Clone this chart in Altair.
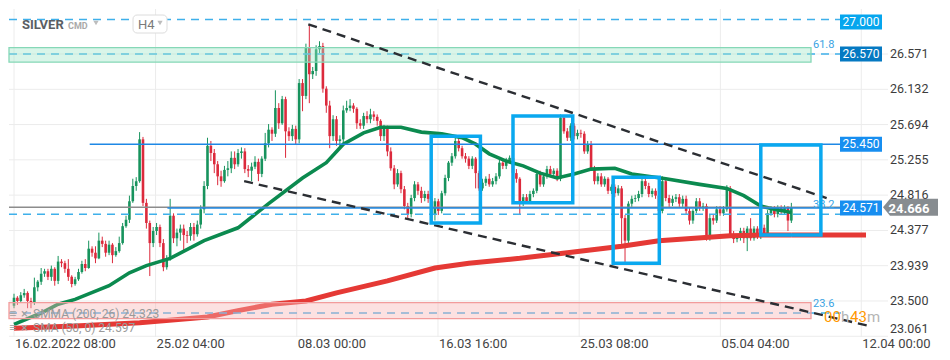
import altair as alt
import pandas as pd

# ---------------- data (prices in USD) ----------------
FIRST_OPEN = 23.44
CLOSE = [
    23.54, 23.50, 23.57, 23.60, 23.50, 23.48, 23.67, 23.74, 23.84, 23.87,
    23.80, 23.90, 23.75, 23.99, 23.97, 23.90, 23.80, 23.71, 23.77, 23.86,
    23.96, 23.91, 24.15, 24.10, 24.03, 24.25, 24.21, 24.10, 24.20, 24.07,
    24.12, 24.22, 24.43, 24.51, 24.74, 24.93, 24.99, 25.51, 24.72, 24.47,
    24.22, 24.37, 24.42, 24.22, 23.92, 24.02, 24.56, 24.28, 24.35, 24.40,
    24.32, 24.31, 24.42, 24.33, 24.45, 24.64, 24.93, 25.43, 25.34, 25.20,
    25.05, 24.99, 25.13, 25.15, 25.28, 25.20, 25.34, 25.36, 25.14, 25.12,
    25.17, 25.23, 25.08, 25.27, 25.46, 25.63, 25.58, 25.90, 25.71, 26.01,
    25.61, 25.55, 25.64, 25.51, 26.21, 26.05, 26.65, 26.32, 26.36, 26.63,
    26.67, 26.14, 25.93, 25.55, 25.76, 25.49, 25.51, 25.87, 25.90, 25.93,
    25.89, 25.71, 25.68, 25.80, 25.76, 25.82, 25.79, 25.74, 25.55, 25.64,
    25.36, 25.15, 24.95, 25.09, 24.89, 24.68, 24.58, 24.78, 24.95, 24.87,
    24.78, 24.83, 24.77, 24.58, 24.74, 24.62, 24.84, 25.03, 25.22, 25.30,
    25.49, 25.40, 25.30, 25.27, 25.18, 25.27, 25.09, 24.90, 24.97, 25.02,
    24.95, 24.99, 25.05, 25.22, 25.18, 25.24, 25.28, 25.09, 25.02, 24.72,
    24.79, 24.74, 24.83, 24.87, 25.08, 24.95, 25.05, 25.14, 25.08, 25.12,
    25.02, 25.78, 25.61, 25.53, 25.68, 25.55, 25.59, 25.58, 25.36, 25.45,
    25.15, 24.99, 25.05, 24.95, 25.02, 24.87, 24.92, 24.84, 24.90, 24.53,
    24.25, 24.71, 24.77, 24.78, 24.83, 24.99, 24.93, 24.83, 24.87, 24.81,
    24.62, 24.99, 24.78, 24.72, 24.77, 24.79, 24.71, 24.77, 24.62, 24.50,
    24.62, 24.74, 24.66, 24.68, 24.28, 24.53, 24.50, 24.64, 24.59, 24.64,
    24.90, 24.33, 24.27, 24.30, 24.37, 24.28, 24.40, 24.28, 24.40, 24.31,
    24.41, 24.33, 24.59, 24.64, 24.58, 24.66, 24.62, 24.66, 24.50, 24.66,
]
HIGH = [
    23.59, 23.56, 23.61, 23.65, 23.62, 23.54, 23.79, 23.76, 23.91, 23.90,
    23.90, 23.94, 23.92, 24.06, 24.02, 24.00, 24.02, 23.82, 23.80, 23.90,
    24.00, 24.02, 24.25, 24.18, 24.18, 24.35, 24.30, 24.25, 24.25, 24.22,
    24.17, 24.30, 24.47, 24.56, 24.81, 25.02, 25.04, 25.60, 25.54, 24.77,
    24.50, 24.42, 24.47, 24.45, 24.27, 24.07, 24.77, 24.59, 24.40, 24.45,
    24.45, 24.37, 24.47, 24.47, 24.50, 24.69, 24.99, 25.53, 25.49, 25.39,
    25.24, 25.12, 25.18, 25.24, 25.36, 25.36, 25.39, 25.41, 25.40, 25.19,
    25.22, 25.30, 25.27, 25.30, 25.59, 25.70, 25.66, 26.12, 25.96, 26.05,
    26.04, 25.66, 25.69, 25.68, 26.26, 26.26, 26.70, 26.94, 26.41, 26.68,
    26.73, 26.71, 26.17, 25.99, 25.81, 25.80, 25.56, 25.93, 25.99, 26.01,
    25.96, 25.91, 25.76, 25.84, 25.86, 25.89, 25.86, 25.82, 25.76, 25.69,
    25.68, 25.41, 25.19, 25.14, 25.12, 24.93, 24.72, 24.82, 24.99, 24.98,
    24.92, 24.87, 24.87, 24.79, 24.78, 24.77, 24.87, 25.07, 25.24, 25.34,
    25.53, 25.53, 25.43, 25.34, 25.30, 25.30, 25.29, 25.12, 25.02, 25.05,
    25.08, 25.03, 25.09, 25.27, 25.24, 25.28, 25.31, 25.30, 25.14, 25.04,
    24.83, 24.83, 24.87, 24.90, 25.12, 25.12, 25.09, 25.18, 25.18, 25.15,
    25.15, 25.82, 25.80, 25.65, 25.71, 25.71, 25.63, 25.63, 25.61, 25.49,
    25.49, 25.18, 25.09, 25.09, 25.05, 25.04, 24.95, 24.95, 24.94, 24.93,
    24.57, 24.74, 24.81, 24.82, 24.87, 25.04, 25.03, 24.97, 24.90, 24.90,
    24.84, 25.05, 25.03, 24.82, 24.81, 24.83, 24.83, 24.81, 24.81, 24.66,
    24.64, 24.78, 24.78, 24.72, 24.71, 24.57, 24.57, 24.68, 24.68, 24.68,
    24.94, 24.93, 24.37, 24.33, 24.41, 24.41, 24.43, 24.53, 24.43, 24.43,
    24.45, 24.45, 24.63, 24.68, 24.68, 24.69, 24.69, 24.69, 24.68, 24.72,
]
LOW = [
    23.41, 23.45, 23.48, 23.54, 23.41, 23.41, 23.45, 23.62, 23.70, 23.80,
    23.76, 23.75, 23.69, 23.71, 23.92, 23.85, 23.75, 23.67, 23.69, 23.75,
    23.84, 23.87, 23.90, 24.05, 23.97, 24.02, 24.17, 24.05, 24.07, 23.97,
    24.05, 24.10, 24.20, 24.41, 24.47, 24.72, 24.87, 24.97, 24.68, 24.40,
    23.81, 24.17, 24.32, 24.17, 23.87, 23.89, 24.00, 24.22, 24.18, 24.25,
    24.12, 24.22, 24.25, 24.25, 24.30, 24.40, 24.59, 24.89, 25.24, 25.09,
    24.94, 24.92, 24.97, 25.05, 25.09, 25.14, 25.17, 25.27, 25.09, 25.04,
    24.99, 25.14, 24.99, 25.04, 25.24, 25.41, 25.49, 25.54, 25.64, 25.69,
    25.28, 25.49, 25.49, 25.45, 25.46, 25.86, 26.01, 25.96, 26.26, 26.30,
    26.58, 26.09, 25.84, 25.40, 25.49, 25.43, 25.40, 25.46, 25.84, 25.86,
    25.84, 25.64, 25.64, 25.64, 25.71, 25.71, 25.74, 25.68, 25.49, 25.49,
    25.30, 25.12, 24.89, 24.92, 24.84, 24.64, 24.52, 24.54, 24.74, 24.82,
    24.72, 24.74, 24.72, 24.52, 24.50, 24.57, 24.59, 24.81, 24.99, 25.18,
    25.27, 25.36, 25.27, 25.22, 25.14, 25.14, 24.90, 24.87, 24.87, 24.93,
    24.92, 24.92, 24.95, 25.02, 25.14, 25.14, 25.22, 25.05, 24.97, 24.58,
    24.68, 24.71, 24.71, 24.79, 24.84, 24.92, 24.92, 25.02, 25.04, 25.04,
    24.99, 24.99, 25.58, 25.49, 25.49, 25.51, 25.51, 25.53, 25.33, 25.33,
    25.12, 24.95, 24.95, 24.92, 24.92, 24.83, 24.83, 24.79, 24.81, 24.21,
    23.97, 24.21, 24.67, 24.73, 24.74, 24.79, 24.89, 24.79, 24.79, 24.77,
    24.58, 24.59, 24.74, 24.67, 24.68, 24.73, 24.67, 24.67, 24.58, 24.45,
    24.46, 24.59, 24.62, 24.62, 24.25, 24.25, 24.45, 24.47, 24.56, 24.56,
    24.61, 24.30, 24.22, 24.23, 24.25, 24.22, 24.12, 24.25, 24.25, 24.27,
    24.27, 24.30, 24.30, 24.56, 24.54, 24.54, 24.58, 24.58, 24.37, 24.47,
]

SMA50_BAR = [0, 8, 13, 18, 28, 34, 39, 46, 56, 66, 75, 85, 92, 97, 103, 108, 114, 120, 126,
             132, 136, 140, 145, 150, 155, 160, 165, 170, 177, 182, 192, 202, 210, 215, 220, 224, 229]
SMA50_VAL = [23.21, 23.35, 23.46, 23.52, 23.69, 23.85, 23.94, 24.03, 24.25, 24.41, 24.71, 25.03,
             25.22, 25.45, 25.59, 25.66, 25.66, 25.60, 25.58, 25.53, 25.45, 25.33, 25.24, 25.18,
             25.09, 25.03, 25.08, 25.14, 25.15, 25.08, 25.02, 24.95, 24.90, 24.81, 24.68, 24.64, 24.60]
SMMA200_BAR = [0, 18, 37, 57, 66, 76, 86, 95, 110, 124, 134, 149, 163, 179, 190, 211, 221, 229]
SMMA200_VAL = [23.16, 23.19, 23.23, 23.30, 23.38, 23.46, 23.50, 23.60, 23.75, 23.91, 23.97,
               24.03, 24.10, 24.18, 24.25, 24.31, 24.32, 24.32]

X_TICKS = [0, 41.7, 83.3, 124.9, 166.5, 208.1, 249.6]
X_LABELS = ["16.02.2022 08:00", "25.02 04:00", "08.03 00:00", "16.03 16:00",
            "25.03 08:00", "05.04 04:00", "12.04 00:00"]
Y_TICKS = [23.061, 23.500, 23.939, 24.377, 24.816, 25.255, 25.694, 26.132, 26.571]

TREND_NAME = ["upper", "upper", "lower", "lower"]
TREND_BAR = [86.7, 239.4, 67.8, 251.9]
TREND_VAL = [26.94, 24.78, 24.99, 23.19]

BOX_LEFT = [122.9, 147.0, 176.5, 220.0]
BOX_RIGHT = [137.4, 164.6, 190.1, 237.7]
BOX_TOP = [25.55, 25.80, 25.04, 25.44]
BOX_BOTTOM = [24.47, 24.72, 23.97, 24.32]

DASH_LEVELS = [27.000, 26.570, 24.580, 23.350]
FIB_TEXT = ["61.8", "38.2", "23.6"]
FIB_TEXT_PRICE = [26.68, 24.69, 23.46]
GREEN_ZONE = [26.65, 26.47]
RED_ZONE = [23.48, 23.28]
SOLID_LEVELS = [25.450, 24.655]
SOLID_START_BAR = [22.3, 45.2]
LAST_PRICE = 24.666

TAG_TEXT = ["27.000", "26.570", "25.450", "24.571"]
TAG_PRICE = [26.97, 26.57, 25.45, 24.655]
TAG_COLOR = ["#06a6ee", "#0579c2", "#178ef0", "#178ef0"]

LEGEND_LINES = ["SMMA (200, 26) 24.323", "SMA (50, 0) 24.597"]

# ---------------- styling ----------------
GREEN = "#17935d"
RED = "#dc2a3c"
W, H = 879, 328
XS = alt.Scale(domain=[0, 256], nice=False, zero=False)
YS = alt.Scale(domain=[23.052, 27.131], nice=False, zero=False)
FONT = "Roboto"


def X(field):
    return alt.X(f"{field}:Q", scale=XS, axis=None)


def Y(field):
    return alt.Y(f"{field}:Q", scale=YS, axis=None)


# ---- grid and axis labels (drawn through the shared scales) ----
xgrid = alt.Chart(pd.DataFrame({"t": X_TICKS})).mark_rule(color="#ececec", strokeWidth=1).encode(
    x=X("t"), y=alt.value(0), y2=alt.value(H))
ygrid = alt.Chart(pd.DataFrame({"t": Y_TICKS})).mark_rule(color="#ececec", strokeWidth=1).encode(
    y=Y("t"), x=alt.value(0), x2=alt.value(W))
xlab = alt.Chart(pd.DataFrame({"t": X_TICKS, "s": X_LABELS})).mark_text(
    align="left", baseline="middle", font=FONT, fontSize=13, color="#444444", dx=1).encode(
    x=X("t"), y=alt.value(H + 7), text="s:N")
ytick_df = pd.DataFrame({"t": Y_TICKS, "s": ["%.3f" % v for v in Y_TICKS]})
ylab = alt.Chart(ytick_df.iloc[1:]).mark_text(
    align="left", baseline="middle", font=FONT, fontSize=12.5, color="#3c3c3c").encode(
    y=Y("t"), x=alt.value(W + 2), text="s:N")
ylab_last = alt.Chart(ytick_df.iloc[:1]).mark_text(
    align="left", baseline="bottom", font=FONT, fontSize=12.5, color="#3c3c3c").encode(
    y=Y("t"), x=alt.value(W + 2), text="s:N")

# ---- candles ----
opens = [FIRST_OPEN] + CLOSE[:-1]
candles = pd.DataFrame({"bar": list(range(len(CLOSE))), "open": opens, "high": HIGH,
                        "low": LOW, "close": CLOSE})
candles["dir"] = ["up" if c >= o else "down" for o, c in zip(opens, CLOSE)]
cscale = alt.Scale(domain=["up", "down"], range=[GREEN, RED])

wicks = alt.Chart(candles).mark_rule(strokeWidth=1, clip=True).encode(
    x=X("bar"), y=Y("low"), y2="high:Q",
    color=alt.Color("dir:N", scale=cscale, legend=None))
bodies = alt.Chart(candles).mark_bar(size=2.6, clip=True).encode(
    x=X("bar"), y=Y("open"), y2="close:Q",
    color=alt.Color("dir:N", scale=cscale, legend=None))

# ---- indicators ----
smma = alt.Chart(pd.DataFrame({"bar": SMMA200_BAR, "v": SMMA200_VAL})).mark_line(
    color="#e53935", strokeWidth=5, clip=True).encode(x=X("bar"), y=Y("v"))
smma_ext = alt.Chart(pd.DataFrame({"bar": [SMMA200_BAR[-1]], "v": [SMMA200_VAL[-1]]})).mark_rule(
    color="#e53935", strokeWidth=5).encode(x=X("bar"), x2=alt.value(857), y=Y("v"))
sma = alt.Chart(pd.DataFrame({"bar": SMA50_BAR, "v": SMA50_VAL})).mark_line(
    color="#0b8a4f", strokeWidth=3.6, clip=True).encode(x=X("bar"), y=Y("v"))

# ---- drawings ----
dash_levels = alt.Chart(pd.DataFrame({"v": DASH_LEVELS})).mark_rule(
    color="#3fb0ea", strokeWidth=1.5, strokeDash=[8, 6]).encode(
    x=alt.value(0), x2=alt.value(832), y=Y("v"))
price_line = alt.Chart(pd.DataFrame({"v": [LAST_PRICE]})).mark_rule(
    color="#8c8c8c", strokeWidth=1.5).encode(x=alt.value(0), x2=alt.value(834), y=Y("v"))
solid_levels = alt.Chart(pd.DataFrame({"bar": SOLID_START_BAR, "v": SOLID_LEVELS})).mark_rule(
    color="#1e88e5", strokeWidth=1.5).encode(x=X("bar"), x2=alt.value(832), y=Y("v"))

zones = alt.Chart(pd.DataFrame({"t": [GREEN_ZONE[0], RED_ZONE[0]], "b": [GREEN_ZONE[1], RED_ZONE[1]],
                                "k": ["g", "r"]})).mark_rect(fillOpacity=0.4, strokeWidth=1.3).encode(
    x=alt.value(0), x2=alt.value(802), y=Y("t"), y2="b:Q",
    fill=alt.Fill("k:N", scale=alt.Scale(domain=["g", "r"], range=["#9fe5c8", "#f7b3b3"]), legend=None),
    stroke=alt.Stroke("k:N", scale=alt.Scale(domain=["g", "r"], range=["#86d8b7", "#f29c9c"]), legend=None),
)
fib_text = alt.Chart(pd.DataFrame({"v": FIB_TEXT_PRICE, "t": FIB_TEXT})).mark_text(
    align="left", baseline="middle", fontSize=11, font=FONT, color="#3aa3e3").encode(
    x=alt.value(804), y=Y("v"), text="t:N")

trend = alt.Chart(pd.DataFrame({"name": TREND_NAME, "bar": TREND_BAR, "v": TREND_VAL})).mark_line(
    color="#2b2e33", strokeWidth=2.4, strokeDash=[9, 6]).encode(x=X("bar"), y=Y("v"), detail="name:N")

boxes = alt.Chart(pd.DataFrame({"l": BOX_LEFT, "r": BOX_RIGHT, "t": BOX_TOP, "b": BOX_BOTTOM})).mark_rect(
    fillOpacity=0, stroke="#0aa8ef", strokeWidth=3.5).encode(
    x=X("l"), x2="r:Q", y=Y("t"), y2="b:Q")

TAG_SHAPE = "M-1,-0.357L1,-0.357L1,0.357L-1,0.357Z"
tags_df = pd.DataFrame({"v": TAG_PRICE, "t": TAG_TEXT, "c": TAG_COLOR})
tag_bg = alt.Chart(tags_df).mark_point(shape=TAG_SHAPE, size=1764, filled=True, opacity=1,
                                       strokeWidth=0).encode(
    x=alt.value(852), y=Y("v"), fill=alt.Fill("c:N", scale=None))
tag_tx = alt.Chart(tags_df).mark_text(color="white", fontSize=12, font=FONT, baseline="middle").encode(
    x=alt.value(852), y=Y("v"), text="t:N")

PRICE_SHAPE = "M-1,0L-0.745,-0.309L1,-0.309L1,0.309L-0.745,0.309Z"
last_df = pd.DataFrame({"v": [LAST_PRICE], "t": ["%.3f" % LAST_PRICE]})
last_bg = alt.Chart(last_df).mark_point(shape=PRICE_SHAPE, size=3025, filled=True, opacity=1,
                                        strokeWidth=0, color="#878c90").encode(
    x=alt.value(901.5), y=Y("v"))
last_tx = alt.Chart(last_df).mark_text(color="white", fontSize=13, fontWeight="bold", font=FONT,
                                       baseline="middle", dy=2).encode(
    x=alt.value(900), y=Y("v"), text="t:N")

one = pd.DataFrame({"a": [0]})


def label(text, x, y, size, color, weight="normal", align="left", font=FONT):
    return alt.Chart(one).mark_text(text=text, fontSize=size, color=color, fontWeight=weight,
                                    align=align, baseline="middle", font=font).encode(
        x=alt.value(x), y=alt.value(y))


def marker(x, y):
    return alt.Chart(one).mark_point(shape="triangle-down", size=28, filled=True, opacity=1,
                                     color="#bdbdbd").encode(x=alt.value(x), y=alt.value(y))


header_box = alt.Chart(one).mark_rect(fill="white", stroke="#dcdcdc", strokeWidth=1,
                                      cornerRadius=4).encode(
    x=alt.value(124), x2=alt.value(158), y=alt.value(6), y2=alt.value(24))

texts = [
    label("SILVER", 13, 15.5, 13, "#5a5e63", "bold"),
    label("CMD", 59, 16.5, 9, "#a9a9a9", "bold"),
    marker(87, 14),
    label("H4", 129, 15.5, 13, "#7a7a7a"),
    marker(151, 14),
    label("≡", 0, 305, 13, "#a0a0a0"),
    label("×", 12, 305, 13, "#a0a0a0"),
    label("≡", 0, 319, 13, "#a0a0a0"),
    label("×", 12, 319, 13, "#a0a0a0"),
    label(LEGEND_LINES[0], 24, 305, 12, "#9a9a9a"),
    label(LEGEND_LINES[1], 24, 319, 12, "#9a9a9a"),
    label("00", 815, 308, 15, "#ff9800"),
    label("h", 832, 308, 15, "#b5b5b5"),
    label("43", 841, 308, 15, "#ff9800"),
    label("m", 858, 308, 15, "#b5b5b5"),
]

chart = alt.layer(
    xgrid, ygrid, xlab, ylab, ylab_last,
    wicks, bodies, smma, smma_ext, sma, dash_levels, price_line, solid_levels, zones, fib_text,
    trend, boxes, tag_bg, tag_tx, last_bg, last_tx, header_box, *texts,
).properties(width=W, height=H, background="white", padding=0).configure_view(strokeWidth=0)

chart.save("out.html", embed_options={"renderer": "svg", "actions": False})
